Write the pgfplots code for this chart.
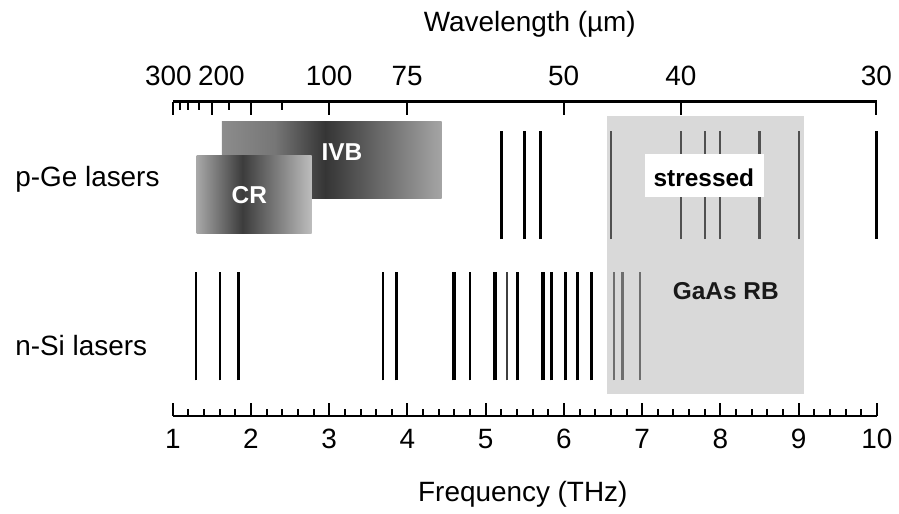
\documentclass[border=0pt]{standalone}
\usepackage{fontspec}
\setmainfont{Liberation Sans}
\usepackage{pgfplots}
\pgfplotsset{compat=1.18}
\definecolor{boxgray}{HTML}{D9D9D9}
\definecolor{ingray}{HTML}{505050}
\definecolor{sigray}{HTML}{6E6E6E}
\definecolor{crA}{HTML}{A8A8A8}
\definecolor{crB}{HTML}{3C3C3C}
\definecolor{crC}{HTML}{BDBDBD}
\definecolor{ivA}{HTML}{8C8C8C}
\definecolor{ivB}{HTML}{353535}
\definecolor{ivC}{HTML}{A5A5A5}
\pgfdeclarehorizontalshading{crshade}{100bp}{color(0bp)=(crA); color(25bp)=(crA); color(45bp)=(crB); color(75bp)=(crC); color(100bp)=(crC)}
\pgfdeclarehorizontalshading{ivshade}{100bp}{color(0bp)=(ivA); color(25bp)=(ivA); color(37bp)=(ivA!75!ivB); color(48.5bp)=(ivB); color(75bp)=(ivC); color(100bp)=(ivC)}
\pgfplotsset{
  blk/.style={black, line width=1.35pt},
  thk/.style={black, line width=2.1pt},
  thn/.style={black!75, line width=1.0pt},
  ing/.style={ingray, line width=1.1pt},
  sig/.style={sigray, line width=1.1pt},
}
\newcommand{\txt}{\fontsize{14}{16.8}\selectfont}
\newcommand{\btxt}{\bfseries\fontsize{12.25}{14.7}\selectfont}
\begin{document}
\begin{tikzpicture}
\begin{axis}[name=main, at={(0,0)}, anchor=south west,
  width=353.3pt, height=157.65pt, scale only axis,
  xmin=1, xmax=10, ymin=0, ymax=315.3,
  axis x line*=bottom, axis y line=none,
  axis line style={-, line width=1.3pt},
  xtick={1,2,3,4,5,6,7,8,9,10}, minor x tick num=4,
  xtick align=inside,
  major tick length=6.5pt, minor tick length=3.5pt,
  tick style={line width=1pt, black},
  /pgf/number format/assume math mode=true,
  tick label style={font=\txt},
  xticklabel style={yshift=-3pt},
  xlabel={Frequency (THz)},
  every axis x label/.style={at={(axis description cs:0.5,0)}, anchor=base, yshift=-42.85pt, xshift=-1pt, font=\txt},
  clip=false]
% GaAs RB region
\addplot[fill=boxgray, draw=none] coordinates {(6.553,22.3)(9.075,22.3)(9.075,301.3)(6.553,301.3)} -- cycle;
% p-Ge lines
\addplot[blk] coordinates {(5.20,177.3)(5.20,285.6)};
\addplot[blk] coordinates {(5.50,177.3)(5.50,285.6)};
\addplot[blk] coordinates {(5.70,177.3)(5.70,285.6)};
\addplot[blk] coordinates {(9.995,177.3)(9.995,285.6)};
\addplot[ing] coordinates {(6.60,177.3)(6.60,285.6)};
\addplot[ing] coordinates {(7.50,177.3)(7.50,285.6)};
\addplot[ing] coordinates {(7.80,177.3)(7.80,285.6)};
\addplot[ing] coordinates {(8.00,177.3)(8.00,285.6)};
\addplot[ing] coordinates {(8.50,177.3)(8.50,285.6)};
\addplot[ing] coordinates {(9.00,177.3)(9.00,285.6)};
% stressed label box
\addplot[fill=white, draw=none] coordinates {(7.03,220)(8.558,220)(8.558,262.3)(7.03,262.3)} -- cycle;
% n-Si lines
\addplot[blk] coordinates {(1.297,35.6)(1.297,144)};
\addplot[blk] coordinates {(1.603,35.6)(1.603,144)};
\addplot[blk] coordinates {(1.836,35.6)(1.836,144)};
\addplot[blk] coordinates {(3.687,35.6)(3.687,144)};
\addplot[blk] coordinates {(3.857,35.6)(3.857,144)};
\addplot[thk] coordinates {(4.60,35.6)(4.60,144)};
\addplot[blk] coordinates {(4.80,35.6)(4.80,144)};
\addplot[thk] coordinates {(5.12,35.6)(5.12,144)};
\addplot[thn] coordinates {(5.27,35.6)(5.27,144)};
\addplot[blk] coordinates {(5.41,35.6)(5.41,144)};
\addplot[thk] coordinates {(5.73,35.6)(5.73,144)};
\addplot[blk] coordinates {(5.84,35.6)(5.84,144)};
\addplot[blk] coordinates {(6.02,35.6)(6.02,144)};
\addplot[blk] coordinates {(6.17,35.6)(6.17,144)};
\addplot[blk] coordinates {(6.35,35.6)(6.35,144)};
\addplot[sig] coordinates {(6.64,35.6)(6.64,144)};
\addplot[sig] coordinates {(6.75,35.6)(6.75,144)};
\addplot[sig] coordinates {(6.97,35.6)(6.97,144)};
% IVB and CR regions
\addplot[shading=ivshade, draw=none] coordinates {(1.628,218)(4.438,218)(4.438,295.6)(1.628,295.6)} -- cycle;
\addplot[shading=crshade, draw=none] coordinates {(1.304,183.3)(2.775,183.3)(2.775,261.3)(1.304,261.3)} -- cycle;
% labels
\node[font=\btxt, text=white] at (axis cs:3.163,264.8) {IVB};
\node[font=\btxt, text=white] at (axis cs:1.978,221.5) {CR};
\node[font=\btxt, text=black] at (axis cs:7.789,239) {stressed};
\node[font=\btxt, text=black!90] at (axis cs:8.069,125) {GaAs RB};
\node[font=\txt, anchor=west, inner sep=0pt] at (axis cs:-1.018,237.3) {p-Ge lasers};
\node[font=\txt, anchor=west, inner sep=0pt] at (axis cs:-1.018,70.3) {n-Si lasers};
\end{axis}
\begin{axis}[at={(main.south west)}, anchor=south west,
  width=353.3pt, height=157.65pt, scale only axis,
  xmin=1, xmax=10, ymin=0, ymax=315.3,
  axis x line*=top, axis y line=none,
  axis line style={-, line width=1.3pt},
  xtick={1,1.49896,1.99862,2.99792,3.99723,5.99585,7.49481,9.99308},
  xticklabels={\hspace*{-4.4pt}300,\hspace*{9.5pt}200,,100,75,50,40,30},
  minor xtick={1.09015,1.19917,1.33241,1.71310,2.39834},
  xtick align=inside,
  major tick length=6.5pt, minor tick length=4pt,
  tick style={line width=1pt, black},
  tick label style={font=\txt},
  xticklabel style={yshift=4.3pt},
  xlabel={Wavelength (µm)},
  every axis x label/.style={at={(axis description cs:0.5,1)}, anchor=base, yshift=35.3pt, xshift=2.5pt, font=\txt},
  clip=false]
\addplot[draw=none] coordinates {(5,100)};
\end{axis}
\path (main.south west) ++(-86.7pt,-47.85pt) rectangle ++(449.5pt,256.5pt);
\end{tikzpicture}
\end{document}
